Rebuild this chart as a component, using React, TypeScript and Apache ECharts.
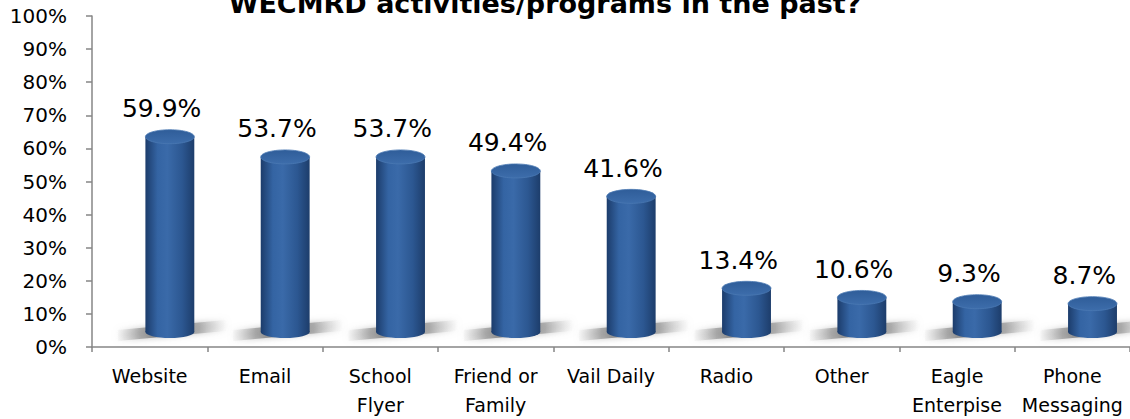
import React, { useEffect, useRef } from "react";
import * as echarts from "echarts";

const categories = [
  "Website",
  "Email",
  "School\nFlyer",
  "Friend or\nFamily",
  "Vail Daily",
  "Radio",
  "Other",
  "Eagle\nEnterpise",
  "Phone\nMessaging",
];
const values = [59.9, 53.7, 53.7, 49.4, 41.6, 13.4, 10.6, 9.3, 8.7];
const yTicks = { min: 0, max: 100, interval: 10 };
const titleText = "WECMRD activities/programs in the past?";

const FONT = "'DejaVu Sans', sans-serif";
const AXIS = "#868686";

export default function App() {
  const ref = useRef<HTMLDivElement>(null);
  useEffect(() => {
    if (!ref.current) return;
    const chart = echarts.init(ref.current, null, { renderer: "svg" });
    const bodyGrad = () =>
      new echarts.graphic.LinearGradient(0, 0, 1, 0, [
        { offset: 0, color: "#1c3c6b" },
        { offset: 0.25, color: "#3464a3" },
        { offset: 0.45, color: "#3a6aa9" },
        { offset: 0.75, color: "#2c5791" },
        { offset: 1, color: "#1d3d6b" },
      ]);
    chart.setOption({
      animation: false,
      grid: { left: 92, right: 0, top: 16, bottom: 70, containLabel: false },
      graphic: [
        {
          type: "text",
          x: 545,
          y: 3,
          style: {
            text: titleText,
            align: "center",
            verticalAlign: "middle",
            font: `bold 27px ${FONT}`,
            fill: "#000",
          },
        },
      ],
      xAxis: {
        type: "category",
        data: categories,
        axisLine: { show: true, lineStyle: { color: AXIS, width: 1.5 } },
        axisTick: { show: true, length: 5, lineStyle: { color: AXIS, width: 1.5 } },
        axisLabel: {
          interval: 0,
          color: "#000",
          fontFamily: FONT,
          fontSize: 19,
          lineHeight: 29,
          margin: 14,
        },
      },
      yAxis: {
        type: "value",
        min: yTicks.min,
        max: yTicks.max,
        interval: yTicks.interval,
        splitLine: { show: false },
        axisLine: { show: true, lineStyle: { color: AXIS, width: 1.5 } },
        axisTick: { show: true, length: 6, lineStyle: { color: AXIS, width: 1.5 } },
        axisLabel: {
          formatter: "{value}%",
          color: "#000",
          fontFamily: FONT,
          fontSize: 20,
          margin: 25,
        },
      },
      series: [
        {
          type: "custom",
          data: values.map((v, i) => [i, v]),
          renderItem: (params: any, api: any) => {
            const idx = api.value(0);
            const v = api.value(1);
            const p0 = api.coord([idx, 0]);
            const p1 = api.coord([idx, v]);
            const band = api.size([1, 0])[0];
            const cx = p0[0] + band * 0.175;
            const rx = band * 0.212;
            const ry = 6;
            const baseCy = p0[1] - 15;
            const topCy = baseCy - (p0[1] - p1[1]) * 0.985;
            const shadow = {
              type: "polygon",
              shape: {
                points: [
                  [cx - 52, baseCy + 9],
                  [cx + 56, baseCy - 1],
                  [cx + 56, baseCy - 12],
                  [cx - 52, baseCy - 2],
                ],
              },
              style: {
                fill: new echarts.graphic.LinearGradient(0, 0, 1, 0, [
                  { offset: 0, color: "rgba(200,200,200,0.1)" },
                  { offset: 0.2, color: "rgba(150,150,150,0.7)" },
                  { offset: 0.4, color: "rgba(115,115,115,0.95)" },
                  { offset: 0.75, color: "rgba(160,160,160,0.8)" },
                  { offset: 1, color: "rgba(230,230,230,0.1)" },
                ]),
                shadowBlur: 6,
                shadowColor: "rgba(150,150,150,0.7)",
              },
            };
            const bottom = {
              type: "ellipse",
              shape: { cx, cy: baseCy, rx, ry },
              style: { fill: bodyGrad() },
            };
            const body = {
              type: "rect",
              shape: { x: cx - rx, y: topCy, width: 2 * rx, height: baseCy - topCy },
              style: { fill: bodyGrad() },
            };
            const top = {
              type: "ellipse",
              shape: { cx, cy: topCy, rx, ry: ry + 1 },
              style: {
                fill: new echarts.graphic.LinearGradient(0, 0, 0, 1, [
                  { offset: 0, color: "#2f5d99" },
                  { offset: 1, color: "#3d6dab" },
                ]),
                stroke: "#4a78b3",
                lineWidth: 0.8,
              },
            };
            const label = {
              type: "text",
              style: {
                text: v.toFixed(1) + "%",
                x: p0[0] + 12,
                y: topCy - ry - 22,
                align: "center",
                verticalAlign: "middle",
                font: `25px ${FONT}`,
                fill: "#000",
              },
            };
            return { type: "group", children: [shadow, bottom, body, top, label] };
          },
        },
      ],
    });
    return () => chart.dispose();
  }, []);
  return (
    <div
      ref={ref}
      style={{ position: "absolute", left: 0, top: 0, width: 1130, height: 419, background: "#fff" }}
    />
  );
}
